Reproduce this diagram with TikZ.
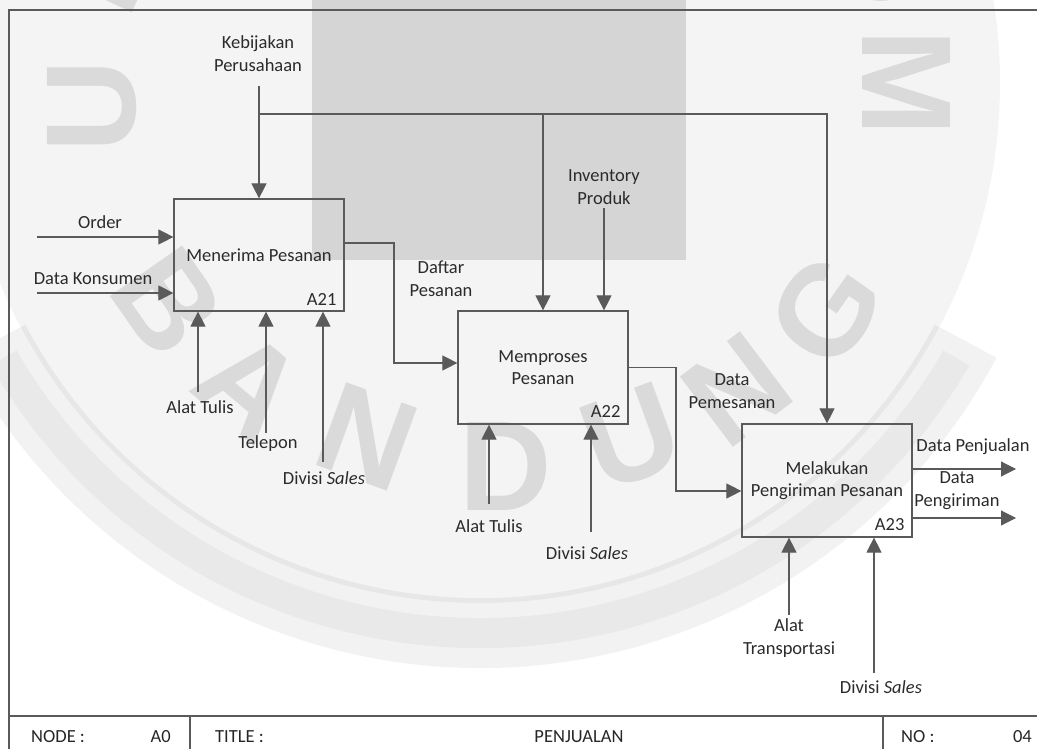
\documentclass[tikz,border=0pt]{standalone}
\usepackage{fontspec}
\setmainfont{Carlito}
\newfontfamily\wmfont{Liberation Sans}
\usetikzlibrary{arrows.meta}

\definecolor{ln}{HTML}{5A5A5A}
\definecolor{tx}{HTML}{2B2B2B}
\definecolor{wm}{HTML}{DADADA}
\definecolor{wmbox}{HTML}{D5D5D5}
\definecolor{wmbg}{HTML}{F4F4F4}

\tikzset{
  lbl/.style={text=tx, font=\fontsize{18.5}{23}\selectfont, align=center, inner sep=0pt},
  proc/.style={draw=ln, line width=1.2pt, minimum width=170pt, minimum height=112pt,
               text=tx, font=\fontsize{18.5}{22}\selectfont, align=center, inner sep=0pt},
  boxid/.style={text=tx, font=\fontsize{18.5}{22}\selectfont, inner sep=0pt, anchor=east},
  flow/.style={draw=ln, line width=1.1pt, -{Triangle[length=15pt,width=15pt]}},
  frameline/.style={draw=ln, line width=1.3pt},
  foot/.style={text=black!85, font=\fontsize{18.5}{22}\selectfont, inner sep=0pt},
  wmletter/.style={text=wm, font=\wmfont\bfseries\fontsize{128}{128}\selectfont, inner sep=0pt},
}

\begin{document}
\begin{tikzpicture}[x=1pt,y=-1pt]
\useasboundingbox (0,0) rectangle (1037,749);

% ---- background seal ----
\begin{scope}
  \clip (0,0) rectangle (1037,749);
  \fill[wmbg] (480,83) circle[radius=520];
  \draw[black, opacity=0.05, line width=70pt] (480,83) ++(152:550) arc[start angle=152, end angle=28, radius=550];
  \draw[black, opacity=0.04, line width=30pt] (480,83) ++(150:550) arc[start angle=150, end angle=30, radius=550];
  \fill[wmbox] (312,0) rectangle (686,260);
  % lettering around the seal
  \node[wmletter, rotate=65]  (sN1) at (108,-40) {N};
  \node[wmletter, rotate=90]  (sU1) at (92,106) {U};
  \node[wmletter, rotate=-65] (sO)  at (884,-44) {O};
  \node[wmletter, rotate=-90] (sM)  at (907,83) {M};
  \node[wmletter, rotate=-55] (sB)  at (168,302) {B};
  \node[wmletter, rotate=-40] (sA)  at (250,385) {A};
  \node[wmletter, rotate=-20] (sN2) at (367,437) {N};
  \node[wmletter, rotate=0]   (sD)  at (506,466) {D};
  \node[wmletter, rotate=20]  (sU2) at (631,437) {U};
  \node[wmletter, rotate=37]  (sN3) at (737,390) {N};
  \node[wmletter, rotate=55]  (sG)  at (826,310) {G};
\end{scope}

% ---- sheet frame ----
\coordinate (fTL) at (9,10);
\coordinate (fTR) at (1037,10);
\coordinate (fBL) at (9,749);
\coordinate (hL) at (9,716);
\coordinate (hR) at (1037,716);
\coordinate (v1t) at (190,716);
\coordinate (v1b) at (190,749);
\coordinate (v2t) at (883,716);
\coordinate (v2b) at (883,749);
\draw[frameline] (fTR) -- (fTL) -- (fBL);
\draw[frameline, line width=1.6pt] (hL) -- (hR);
\draw[frameline] (v1t) -- (v1b);
\draw[frameline] (v2t) -- (v2b);

% ---- footer ----
\node[foot, anchor=west] (fNode) at (31,737) {NODE :};
\node[foot, anchor=east] (fA0)   at (171,737) {A0};
\node[foot, anchor=west] (fTit)  at (215,737) {TITLE :};
\node[foot]              (fPen)  at (579,737) {PENJUALAN};
\node[foot, anchor=west] (fNo)   at (901,737) {NO :};
\node[foot, anchor=east] (f04)   at (1032,737) {04};

% ---- activities ----
\node[proc] (a21) at (259,255)   {Menerima Pesanan};
\node[proc, minimum height=113pt] (a22) at (543,367.5) {Memproses\\Pesanan};
\node[proc, minimum height=113pt] (a23) at (827,480.5) {Melakukan\\Pengiriman Pesanan};
\node[boxid] (id21) at ([xshift=-8pt,yshift=12pt]a21.south east) {A21};
\node[boxid] (id22) at ([xshift=-8pt,yshift=13pt]a22.south east) {A22};
\node[boxid] (id23) at ([xshift=-8pt,yshift=13pt]a23.south east) {A23};

% ---- controls ----
\node[lbl] (kp) at (258,54) {Kebijakan\\Perusahaan};
\coordinate (kp0) at (259,86);
\coordinate (kbr) at (259,114);
\draw[flow] (kp0) -- (a21.north);
\draw[flow] (kbr) -| (a22.north);
\draw[flow] (kbr) -| (a23.north);

\node[lbl] (inv) at (604,187) {Inventory\\Produk};
\coordinate (inv0) at (604,208);
\draw[flow] (inv0) -- (inv0 |- a22.north);

% ---- inputs ----
\node[lbl] (ord) at (100,222) {Order};
\coordinate (ord0) at (37,237);
\draw[flow] (ord0) -- (ord0 -| a21.west);

\node[lbl] (dk) at (93,279) {Data Konsumen};
\coordinate (dk0) at (37,293);
\draw[flow] (dk0) -- (dk0 -| a21.west);

% ---- mechanisms of A21 ----
\node[lbl] (at1) at (200,407) {Alat Tulis};
\coordinate (at1s) at (198,392);
\draw[flow] (at1s) -- (at1s |- a21.south);

\node[lbl] (tel) at (268,444) {Telepon};
\coordinate (tels) at (266,433);
\draw[flow] (tels) -- (tels |- a21.south);

\node[lbl] (ds1) at (324,478) {Divisi \textit{Sales}};
\coordinate (ds1s) at (323,462);
\draw[flow] (ds1s) -- (ds1s |- a21.south);

% ---- A21 -> A22 ----
\node[lbl] (dp) at (441,278.5) {Daftar\\Pesanan};
\coordinate (dpk) at (394,363);
\draw[flow] ([yshift=12pt]a21.east) -| (dpk) -- (dpk -| a22.west);

% ---- mechanisms of A22 ----
\node[lbl] (at2) at (489,526) {Alat Tulis};
\coordinate (at2s) at (489,504);
\draw[flow] (at2s) -- (at2s |- a22.south);

\node[lbl] (ds2) at (587,553) {Divisi \textit{Sales}};
\coordinate (ds2s) at (591,532);
\draw[flow] (ds2s) -- (ds2s |- a22.south);

% ---- A22 -> A23 ----
\node[lbl] (dpm) at (732,391) {Data\\Pemesanan};
\coordinate (dpmk) at (676,491);
\draw[flow] (a22.east) -| (dpmk) -- (dpmk -| a23.west);

% ---- outputs ----
\node[lbl] (dpj) at (973,447) {Data Penjualan};
\coordinate (o1) at (1016,469);
\draw[flow] (o1 -| a23.east) -- (o1);

\node[lbl] (dpg) at (957,491) {Data\\Pengiriman};
\coordinate (o2) at (1016,518);
\draw[flow] (o2 -| a23.east) -- (o2);

% ---- mechanisms of A23 ----
\node[lbl] (trn) at (789,638) {Alat\\Transportasi};
\coordinate (trns) at (789,615);
\draw[flow] (trns) -- (trns |- a23.south);

\node[lbl] (ds3) at (881,687) {Divisi \textit{Sales}};
\coordinate (ds3s) at (874,673);
\draw[flow] (ds3s) -- (ds3s |- a23.south);

\end{tikzpicture}
\end{document}
